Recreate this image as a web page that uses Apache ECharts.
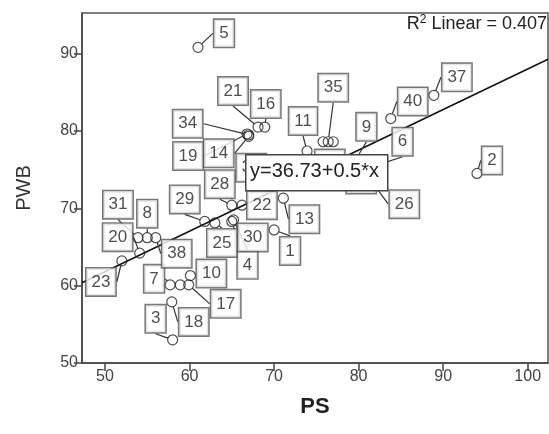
<!DOCTYPE html>
<html>
<head>
<meta charset="utf-8">
<script src="https://cdn.jsdelivr.net/npm/echarts@6/dist/echarts.min.js"></script>
<style>
html,body{margin:0;padding:0;background:#fff;}
#chart{width:549px;height:434px;}
</style>
</head>
<body>
<div id="chart"></div>
<script>
// ---- data ----
const caseIds = [1,2,3,4,5,6,7,8,9,10,11,12,13,14,15,16,17,18,19,20,21,22,23,24,25,26,27,28,29,30,31,32,33,34,35,36,37,38,39,40];
const psValues = [70.0,94.0,58.0,65.2,61.0,82.0,57.7,55.0,79.5,60.1,73.9,75.8,71.1,67.0,77.0,68.9,59.9,57.9,66.8,54.1,68.1,66.2,52.0,58.9,63.0,81.5,79.0,65.0,61.8,65.0,53.9,68.0,72.0,67.0,76.4,76.0,88.9,56.0,70.5,83.8];
const pwbValues = [67.2,74.5,53.0,68.5,90.8,75.5,60.1,66.2,76.0,61.3,77.4,78.6,71.3,79.3,78.6,80.5,60.1,57.9,79.6,64.2,80.5,70.4,63.2,60.1,68.1,73.5,74.5,70.4,68.3,68.3,66.2,73.3,74.5,79.5,78.6,75.0,84.6,66.2,73.5,81.6];
const xTickValues = [50,60,70,80,90,100];
const yTickValues = [50,60,70,80,90];
const fitIntercept = 35.6;
const fitSlope = 0.524;
const fitLabel = 'y=36.73+0.5*x';
const r2Value = '0.407';

// ---- label placement (pixel offsets from the point; null = no label) ----
const labelOffsets = [
  [16,21],[15,-13],[-17,-21],[14,45],[26,-14],[27,-24],[-16,-6],[0,-24],[12,-35],[21,-2],
  [-4,-30],null,[21,21],[-30,17],null,[1,-23],[37,19],[22,20],[-59,22],[-22,-16],
  [-25,-36],[20,0],[-21,21],null,[7,20],[33,23],[11,6],[-12,-21],[-20,-22],[21,16],
  [-20,-33],[-6,-15],null,[-61,-11],[5,-54],[5,-6],[23,-18],[21,16],null,[22,-17]
];

const xMin = 47.28, xMax = 102.4, yMin = 50, yMax = 95.24;
const FONT = '"Liberation Sans", Arial, sans-serif';

const chart = echarts.init(document.getElementById('chart'), null, {renderer:'canvas'});

const scatterData = psValues.map((x, i) => ({
  value: [x, pwbValues[i]],
  name: String(caseIds[i]),
  label: { show: labelOffsets[i] !== null }
}));

const fitData = [[xMin, fitIntercept + fitSlope * xMin], [xMax, fitIntercept + fitSlope * xMax]];

chart.setOption({
  animation: false,
  backgroundColor: '#fff',
  grid: { left: 82, right: 1, top: 13, bottom: 71, show: true, borderColor: '#555', borderWidth: 1.5, backgroundColor: 'transparent' },
  xAxis: {
    type: 'value', min: xMin, max: xMax,
    name: 'PS', nameLocation: 'middle', nameGap: 33,
    nameTextStyle: { fontFamily: FONT, fontSize: 22, fontWeight: 'bold', color: '#222' },
    axisLine: { show: true, onZero: false, lineStyle: { color: '#444', width: 1.5 } },
    axisTick: { show: true, length: 8, customValues: xTickValues, lineStyle: { color: '#444', width: 1.5 } },
    axisLabel: { customValues: xTickValues, fontFamily: FONT, fontSize: 16, color: '#444', margin: 6 },
    splitLine: { show: false }
  },
  yAxis: {
    type: 'value', min: yMin, max: yMax,
    name: 'PWB', nameLocation: 'middle', nameGap: 48, nameRotate: 90,
    nameTextStyle: { fontFamily: FONT, fontSize: 20, color: '#333' },
    axisLine: { show: true, onZero: false, lineStyle: { color: '#444', width: 1.5 } },
    axisTick: { show: true, length: 8, customValues: yTickValues, lineStyle: { color: '#444', width: 1.5 } },
    axisLabel: { customValues: yTickValues, fontFamily: FONT, fontSize: 16, color: '#444', margin: 4 },
    splitLine: { show: false }
  },
  series: [
    {
      type: 'line', data: fitData, symbol: 'none', silent: true,
      lineStyle: { color: '#111', width: 1.5 }, z: 3
    },
    {
      type: 'scatter', data: scatterData, symbol: 'circle', symbolSize: 10,
      itemStyle: { color: 'rgba(255,255,255,0)', borderColor: '#222', borderWidth: 1.2 },
      z: 4,
      label: {
        show: true, position: 'inside', formatter: '{b}',
        fontFamily: FONT, fontSize: 17, lineHeight: 18, color: '#222',
        backgroundColor: '#fff', borderColor: '#555', borderWidth: 1.5,
        padding: [5, 5, 4, 5]
      },
      labelLine: { show: true, lineStyle: { color: '#333', width: 1.2 } },
      labelLayout: function (p) {
        const o = labelOffsets[p.dataIndex];
        if (!o) return {};
        return { dx: o[0], dy: o[1] };
      },
      emphasis: { disabled: true }
    }
  ],
  graphic: [
    { type: 'rect', zlevel: 1, z: 100, left: 245, top: 154,
      shape: { width: 142, height: 36 },
      style: { fill: '#fff', stroke: '#444', lineWidth: 1.5 } },
    { type: 'text', zlevel: 1, z: 101, left: 250, top: 161,
      style: { text: fitLabel, fontFamily: FONT, fontSize: 20, fill: '#222' } },
    {
      type: 'text', zlevel: 1, z: 101, right: 2, top: 14,
      style: {
        text: 'R{sup|2} Linear = ' + r2Value,
        fontFamily: FONT, fontSize: 18, fill: '#222',
        rich: { sup: { fontFamily: FONT, fontSize: 12, fill: '#222', verticalAlign: 'top', padding: [0, 0, 8, 0] } }
      }
    }
  ]
});
</script>
</body>
</html>
